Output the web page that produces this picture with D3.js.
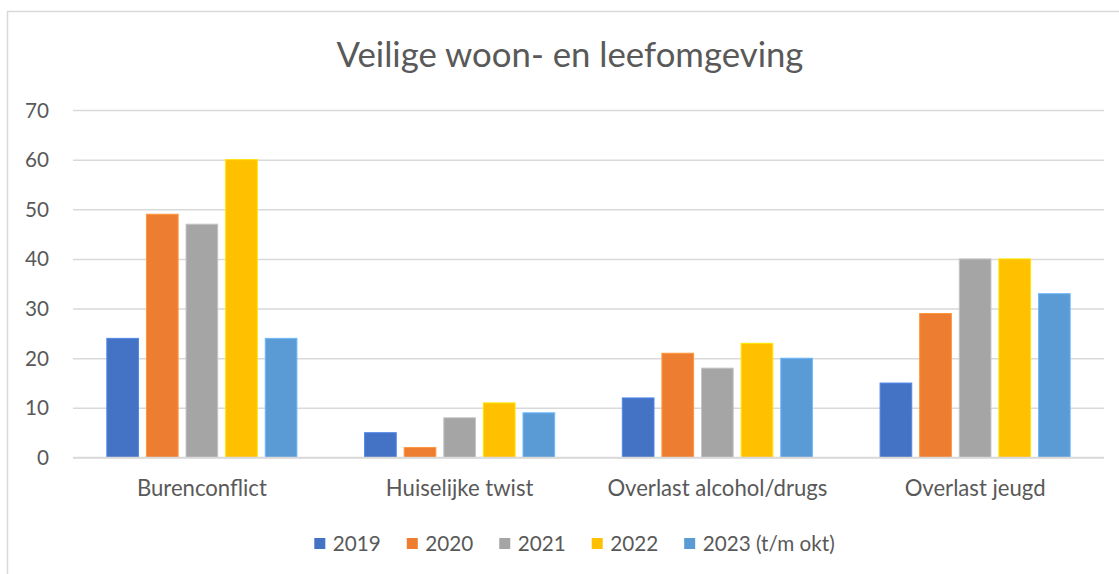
<!DOCTYPE html>
<html>
<head>
<meta charset="utf-8">
<script src="https://cdn.jsdelivr.net/npm/d3@7"></script>
<style>
  html, body { margin: 0; padding: 0; background: #fff; }
  svg { display: block; }
  text { font-family: Lato, "Open Sans", sans-serif; fill: #595959; }
</style>
</head>
<body>
<svg id="chart" width="1119" height="574"></svg>
<script>
// ---- data ----
const title = "Veilige woon- en leefomgeving";
const categories = ["Burenconflict", "Huiselijke twist", "Overlast alcohol/drugs", "Overlast jeugd"];
const seriesNames = ["2019", "2020", "2021", "2022", "2023 (t/m okt)"];
const values2019 = [24, 5, 12, 15];
const values2020 = [49, 2, 21, 29];
const values2021 = [47, 8, 18, 40];
const values2022 = [60, 11, 23, 40];
const values2023 = [24, 9, 20, 33];
const seriesColors = ["#4472C4", "#ED7D31", "#A5A5A5", "#FFC000", "#5B9BD5"];
const yTicks = [0, 10, 20, 30, 40, 50, 60, 70];

const seriesValues = [values2019, values2020, values2021, values2022, values2023];

// ---- layout ----
const svg = d3.select("#chart");
const plot = { left: 73, right: 1104, top: 110, bottom: 457.5 };

// fit a text element's font-size so that its width matches target
function fitText(sel, targetWidth) {
  sel.attr("font-size", 20);
  const w = sel.node().getComputedTextLength();
  sel.attr("font-size", 20 * targetWidth / w);
  return sel;
}
function fitSize(str, targetWidth) {
  const t = svg.append("text").attr("font-size", 20).text(str);
  const w = t.node().getComputedTextLength();
  t.remove();
  return 20 * targetWidth / w;
}

// chart border
svg.append("rect")
  .attr("x", 7.5).attr("y", 11.5)
  .attr("width", 1300).attr("height", 700)
  .attr("fill", "none").attr("stroke", "#d9d9d9").attr("stroke-width", 1.5);

// title
const titleEl = svg.append("text")
  .attr("x", 570).attr("y", 66.7)
  .attr("text-anchor", "middle")
  .text(title);
fitText(titleEl, 467);

// scales
const y = d3.scaleLinear().domain([0, 70]).range([plot.bottom, plot.top]);
const x0 = d3.scaleBand().domain(categories).range([plot.left, plot.right]).padding(0);
const x1 = d3.scaleBand().domain(seriesNames).range([0, x0.bandwidth()])
  .paddingInner(0.2).paddingOuter(0.854);

// gridlines
const yAxis = d3.axisLeft(y).tickValues(yTicks).tickSize(-(plot.right - plot.left)).tickFormat(d3.format("d"));
const gAxis = svg.append("g").attr("transform", `translate(${plot.left},0)`).call(yAxis);
gAxis.select(".domain").remove();
gAxis.selectAll(".tick line").attr("stroke", "#d9d9d9").attr("stroke-width", 1.5);
const tickFont = fitSize("70", 24);
gAxis.selectAll(".tick text")
  .attr("x", -24).attr("dy", null).attr("y", 7)
  .attr("font-size", tickFont)
  .attr("font-family", "Lato, 'Open Sans', sans-serif")
  .attr("fill", "#595959");

// bars
const groups = svg.append("g").selectAll("g")
  .data(categories)
  .join("g")
  .attr("transform", d => `translate(${x0(d)},0)`);

groups.selectAll("rect")
  .data((c, ci) => seriesNames.map((s, si) => ({ s, si, v: seriesValues[si][ci] })))
  .join("rect")
  .attr("x", d => x1(d.s))
  .attr("width", x1.bandwidth())
  .attr("y", d => y(d.v))
  .attr("height", d => y(0) - y(d.v))
  .attr("fill", d => seriesColors[d.si])
  .attr("stroke", d => d3.color(seriesColors[d.si]).brighter(0.5))
  .attr("stroke-width", 1);

// redraw zero line on top
svg.append("line")
  .attr("x1", plot.left).attr("x2", plot.right)
  .attr("y1", y(0)).attr("y2", y(0))
  .attr("stroke", "#d9d9d9").attr("stroke-width", 1.5);

// category labels
const catFont = fitSize("Burenconflict", 130);
svg.append("g").selectAll("text")
  .data(categories)
  .join("text")
  .attr("x", d => x0(d) + x0.bandwidth() / 2)
  .attr("y", 495.7)
  .attr("text-anchor", "middle")
  .attr("font-size", catFont)
  .text(d => d);

// legend
const legFont = fitSize("2019", 48);
const legend = svg.append("g");
const items = [];
let cx = 0;
seriesNames.forEach((s, i) => {
  const g = legend.append("g").attr("transform", `translate(${cx},0)`);
  g.append("rect").attr("x", 0).attr("y", 538).attr("width", 11).attr("height", 11)
    .attr("fill", seriesColors[i]);
  const t = g.append("text").attr("x", 18.5).attr("y", 551).attr("font-size", legFont).text(s);
  const w = t.node().getComputedTextLength();
  cx += 18.5 + w + 26;
});
const totalW = cx - 26;
legend.attr("transform", `translate(${574.5 - totalW / 2},0)`);
</script>
</body>
</html>
